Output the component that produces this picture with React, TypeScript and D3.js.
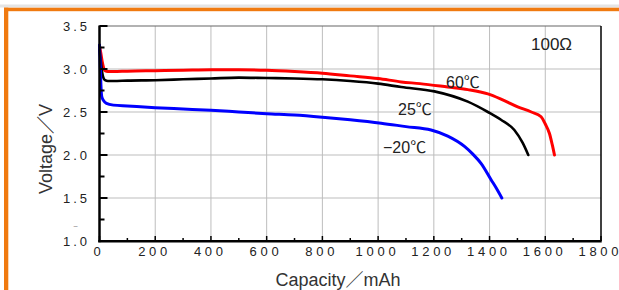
import React from "react";
import * as d3 from "d3";

const redCap = [0, 5, 10, 15, 20, 30, 50, 100, 200, 300, 400, 500, 600, 700, 800, 900, 1000, 1083, 1150, 1250, 1322, 1394, 1441, 1501, 1550, 1585, 1600, 1615, 1625, 1633];
const redV = [3.27, 3.18, 3.08, 3.01, 2.98, 2.97, 2.97, 2.975, 2.98, 2.985, 2.99, 2.99, 2.985, 2.97, 2.95, 2.92, 2.89, 2.85, 2.83, 2.79, 2.76, 2.71, 2.65, 2.56, 2.5, 2.445, 2.36, 2.25, 2.12, 2.0];

const blackCap = [0, 5, 10, 15, 20, 30, 50, 100, 200, 300, 400, 500, 600, 700, 800, 900, 1000, 1083, 1202, 1322, 1394, 1441, 1489, 1519, 1539];
const blackV = [3.22, 3.08, 2.95, 2.89, 2.87, 2.86, 2.86, 2.865, 2.87, 2.88, 2.89, 2.9, 2.895, 2.89, 2.88, 2.86, 2.83, 2.79, 2.74, 2.62, 2.5, 2.41, 2.29, 2.14, 2.0];

const blueCap = [0, 3, 5, 8, 15, 25, 50, 100, 200, 300, 400, 500, 600, 700, 800, 900, 1011, 1100, 1190, 1250, 1310, 1340, 1370, 1406, 1425, 1444];
const blueV = [3.28, 3.0, 2.82, 2.68, 2.63, 2.6, 2.58, 2.57, 2.55, 2.535, 2.52, 2.5, 2.48, 2.465, 2.44, 2.41, 2.37, 2.33, 2.29, 2.22, 2.1, 2.01, 1.9, 1.71, 1.61, 1.5];

const xTicks = [0, 200, 400, 600, 800, 1000, 1200, 1400, 1600, 1800];
const xMinor = [100, 300, 500, 700, 900, 1100, 1300, 1500, 1700];
const yTicks = [1.0, 1.5, 2.0, 2.5, 3.0, 3.5];
const yMinor = [1.25, 1.75, 2.25, 2.75, 3.25];

const series = [
  { name: "60℃", cap: redCap, v: redV, color: "#ff0000", width: 3 },
  { name: "25℃", cap: blackCap, v: blackV, color: "#000000", width: 2.6 },
  { name: "−20℃", cap: blueCap, v: blueV, color: "#0000ff", width: 3 },
];

function Spaced({ s, gap }: { s: string; gap: number }) {
  return (
    <>
      {s.split("").map((ch, i) => (
        <tspan key={i} dx={i === 0 ? 0 : gap}>
          {ch}
        </tspan>
      ))}
    </>
  );
}

export default function App() {
  const x = d3.scaleLinear().domain([0, 1800]).range([99.5, 601]);
  const y = d3.scaleLinear().domain([1, 3.5]).range([241, 26]);
  const font = "'Liberation Sans', Arial, 'Noto Sans CJK SC', sans-serif";
  const line = d3
    .line<[number, number]>()
    .x((d) => x(d[0]))
    .y((d) => y(d[1]))
    .curve(d3.curveMonotoneX);

  return (
    <svg
      width={619}
      height={290}
      style={{ position: "absolute", left: 0, top: 0, background: "#fff" }}
      fontFamily={font}
    >
      {/* frame */}
      <rect x={0} y={4.5} width={619} height={3} fill="#e4e4e4" />
      <rect x={4} y={7.7} width={615} height={3.5} fill="#f07a10" />
      <rect x={4} y={7.7} width={4.3} height={283} fill="#f07a10" />

      {/* grid */}
      {xTicks.slice(1, -1).map((t) => (
        <line key={"gx" + t} x1={x(t)} x2={x(t)} y1={y(3.5)} y2={y(1)} stroke="#bdbdbd" strokeWidth={1} />
      ))}
      {yTicks.slice(1, -1).map((t) => (
        <line key={"gy" + t} x1={x(0)} x2={x(1800)} y1={y(t)} y2={y(t)} stroke="#bdbdbd" strokeWidth={1} />
      ))}
      {/* top & right border */}
      <line x1={x(0)} x2={x(1800)} y1={y(3.5)} y2={y(3.5)} stroke="#666" strokeWidth={1.2} />
      <line x1={x(1800)} x2={x(1800)} y1={y(3.5)} y2={y(1)} stroke="#000" strokeWidth={1.5} />

      {/* curves */}
      {series.map((s) => (
        <path
          key={s.name}
          d={line(s.cap.map((c, i) => [c, s.v[i]] as [number, number])) || ""}
          fill="none"
          stroke={s.color}
          strokeWidth={s.width}
          strokeLinejoin="round"
          strokeLinecap="round"
        />
      ))}

      {/* axes */}
      <line x1={x(0)} x2={x(0)} y1={y(3.5) - 0.5} y2={y(1) + 1.2} stroke="#000" strokeWidth={2.5} />
      <line x1={x(0) - 1.2} x2={x(1800) + 0.7} y1={y(1) + 0.3} y2={y(1) + 0.3} stroke="#000" strokeWidth={2.5} />
      {yTicks.map((t) => (
        <line key={"ty" + t} x1={x(0)} x2={x(0) + 8} y1={y(t)} y2={y(t)} stroke="#000" strokeWidth={2} />
      ))}
      {yMinor.map((t) => (
        <line key={"tym" + t} x1={x(0)} x2={x(0) + 5} y1={y(t)} y2={y(t)} stroke="#000" strokeWidth={2} />
      ))}
      {xTicks.map((t) => (
        <line key={"tx" + t} x1={x(t)} x2={x(t)} y1={y(1)} y2={y(1) - 5} stroke="#000" strokeWidth={1.5} />
      ))}
      {xMinor.map((t) => (
        <line key={"txm" + t} x1={x(t)} x2={x(t)} y1={y(1)} y2={y(1) - 3} stroke="#000" strokeWidth={1.5} />
      ))}

      {/* tick labels */}
      {yTicks.map((t) => (
        <text key={"ly" + t} x={87} y={y(t) + 4.7} textAnchor="end" fontSize={13} fill="#222">
          <Spaced s={t.toFixed(1)} gap={3} />
        </text>
      ))}
      {xTicks.map((t) => (
        <text key={"lx" + t} x={x(t) - 2.5} y={256} textAnchor="middle" fontSize={13} fill="#222">
          <Spaced s={String(t)} gap={3.7} />
        </text>
      ))}
      <text x={75.5} y={229} fontSize={8} fill="#777" textAnchor="middle">~</text>

      {/* axis titles */}
      <text x={338} y={286} textAnchor="middle" fontSize={18} fill="#333">
        Capacity／mAh
      </text>
      <text
        transform="translate(52,149) rotate(-90)"
        textAnchor="middle"
        fontSize={18}
        fill="#333"
      >
        Voltage／V
      </text>

      {/* annotations */}
      <text x={531} y={50} fontSize={17} fill="#222">100Ω</text>
      <text x={446} y={88} fontSize={16} fill="#222">60℃</text>
      <text x={398} y={115} fontSize={16} fill="#222">25℃</text>
      <text x={383} y={153} fontSize={16} fill="#222">−20℃</text>
    </svg>
  );
}
